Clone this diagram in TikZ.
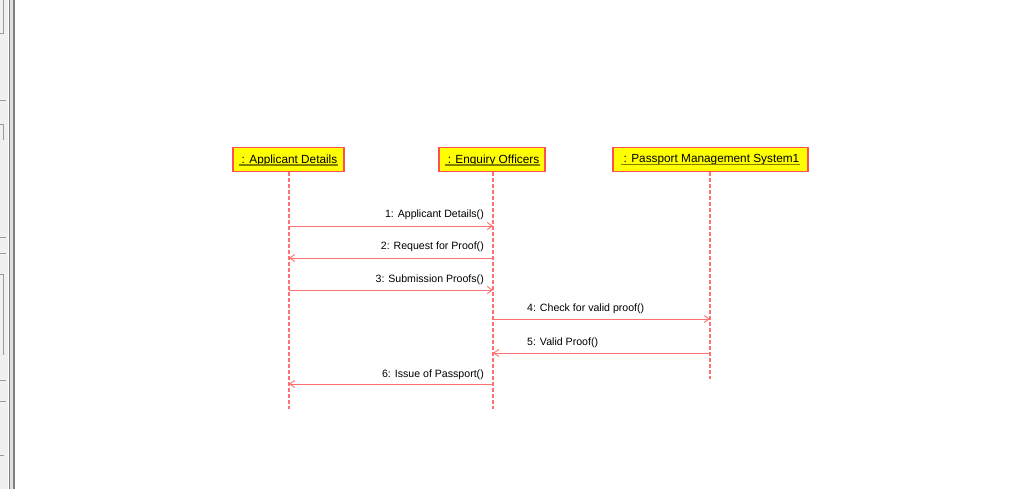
\documentclass[tikz,border=0pt]{standalone}
\usepackage{fontspec}
\setmainfont{Liberation Sans}
\usetikzlibrary{arrows.meta}
\definecolor{lred}{HTML}{FF7070}
\definecolor{bred}{HTML}{FF5050}
\definecolor{byel}{HTML}{FFFF00}
\definecolor{uline}{HTML}{808000}
\definecolor{chrome}{HTML}{F0F0F0}
\definecolor{chromeline}{HTML}{808080}
\tikzset{
  obj/.style={draw=bred, line width=1.2pt, fill=byel, minimum height=24pt, inner sep=0pt},
  otext/.style={inner sep=0pt, font=\fontsize{11.8}{13}\selectfont, text=black},
  ul/.style={draw=uline, line width=1.2pt},
  life/.style={draw=lred, line width=1.3pt, dash pattern=on 4pt off 2pt},
  msg/.style={draw=lred, line width=1pt, -{Straight Barb[length=5pt,width=7pt,line width=0.9pt]}},
  lbl/.style={font=\fontsize{10.6}{12}\selectfont, inner sep=0pt, text=black},
}
\begin{document}
\begin{tikzpicture}[x=1pt,y=-1pt]
\useasboundingbox (0,0) rectangle (1025,489);
\fill[white] (0,0) rectangle (1025,489);
% left chrome
\fill[chrome] (0,0) rectangle (8,489);
\fill[black!12] (10,0) rectangle (13,489);
\draw[chromeline,line width=1pt] (9.5,0) -- (9.5,489);
\draw[chromeline,line width=1.5pt] (14,0) -- (14,489);
\draw[chromeline!80] (0,33.5) -- (3,33.5) -- (3,0);
\draw[chromeline!80] (0,100.5) -- (6,100.5);
\draw[chromeline!80] (0,124) -- (3,124) -- (3,140);
\draw[chromeline!80] (0,237) -- (6,237);
\draw[chromeline!80] (0,253) -- (6,253);
\draw[chromeline!80] (0,274) -- (3,274) -- (3,355);
\draw[chromeline!80] (0,380) -- (6,380);
\draw[chromeline!80] (0,401) -- (6,401);
\draw[chromeline!80] (0,455) -- (4,455);
% objects
\node[obj, minimum width=111pt] (a) at (288.5,159.5) {};
\node[obj, minimum width=106pt] (e) at (492,159.5) {};
\node[obj, minimum width=195pt] (p) at (710.5,159.5) {};
\node[otext] (at) at (289.5,160) {: Applicant Details};
\node[otext] (et) at (493.5,160) {: Enquiry Officers};
\node[otext] (pt) at (711.5,160) {: Passport Management System1};
\draw[ul] ([xshift=-3pt,yshift=-2pt]at.base west) -- ([xshift=1pt,yshift=-2pt]at.base east);
\draw[ul] ([xshift=-3pt,yshift=-2pt]et.base west) -- ([xshift=1pt,yshift=-2pt]et.base east);
\draw[ul] ([xshift=-3pt,yshift=-2pt]pt.base west) -- ([xshift=1pt,yshift=-2pt]pt.base east);
% lifelines
\coordinate (aend) at (289,409);
\coordinate (eend) at (493,409);
\coordinate (pend) at (710,379);
\draw[life] (a.south -| aend) -- (aend);
\draw[life] (e.south -| eend) -- (eend);
\draw[life] (p.south -| pend) -- (pend);
% messages
\coordinate (a1) at (289,226); \coordinate (e1) at (493,226);
\coordinate (a2) at (289,258); \coordinate (e2) at (493,258);
\coordinate (a3) at (289,290); \coordinate (e3) at (493,290);
\coordinate (e4) at (493,319); \coordinate (p4) at (710,319);
\coordinate (e5) at (493,353); \coordinate (p5) at (710,353);
\coordinate (a6) at (289,384); \coordinate (e6) at (493,384);
\draw[msg] (a1) -- (e1);
\draw[msg] (e2) -- (a2);
\draw[msg] (a3) -- (e3);
\draw[msg] (e4) -- (p4);
\draw[msg] (p5) -- (e5);
\draw[msg] (e6) -- (a6);
\node[lbl, anchor=east] (m1) at (484,214.5) {1: Applicant Details()};
\node[lbl, anchor=east] (m2) at (484,246.5) {2: Request for Proof()};
\node[lbl, anchor=east] (m3) at (484,280) {3: Submission Proofs()};
\node[lbl, anchor=west] (m4) at (527,308.5) {4: Check for valid proof()};
\node[lbl, anchor=west] (m5) at (527,343) {5: Valid Proof()};
\node[lbl, anchor=east] (m6) at (484,374.5) {6: Issue of Passport()};
\end{tikzpicture}
\end{document}
